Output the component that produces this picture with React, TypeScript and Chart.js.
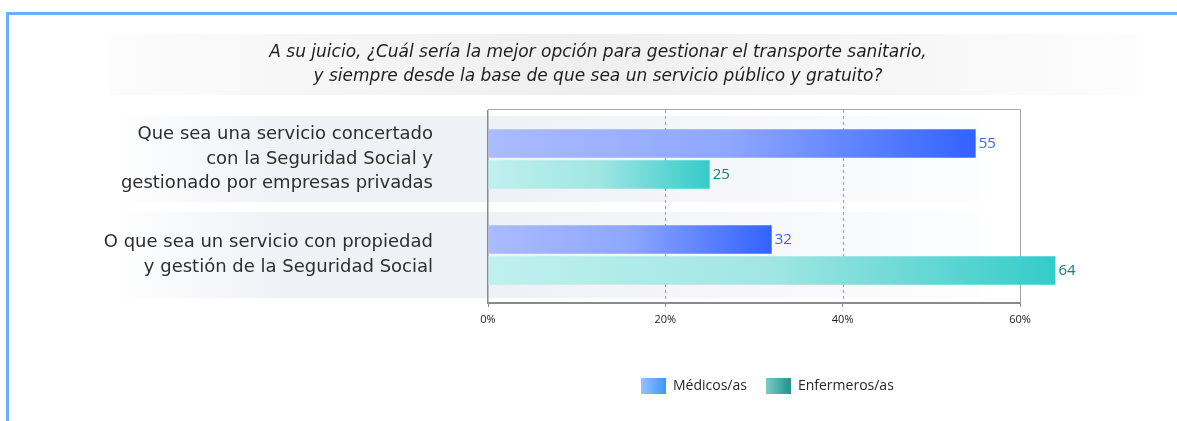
import React, { useEffect, useRef } from "react";
import { Chart, registerables } from "chart.js";

Chart.register(...registerables);

const titleLines = [
  "A su juicio, ¿Cuál sería la mejor opción para gestionar el transporte sanitario,",
  "y siempre desde la base de que sea un servicio público y gratuito?",
];

const categories: string[][] = [
  ["Que sea una servicio concertado", "con la Seguridad Social y", "gestionado por empresas privadas"],
  ["O que sea un servicio con propiedad", "y gestión de la Seguridad Social"],
];

const seriesNames = ["Médicos/as", "Enfermeros/as"];
const medicosValues = [55, 32];
const enfermerosValues = [25, 64];
const xTicks = [0, 20, 40, 60];

const FONT = "'Open Sans', 'Noto Sans', sans-serif";
const WIDE_FONT = "'DejaVu Sans', 'Open Sans', sans-serif";

const barStops = [
  ["#aabcff", "#8ea6ff", "#3262ff"],
  ["#bff0ee", "#a0e6e3", "#34cbc9"],
];
const labelColors = ["#3a64ff", "#15807a"];
const legendStops = [
  ["#92c4ff", "#3a96ff"],
  ["#7fcac5", "#1a948e"],
];

function makeBarGradient(idx: number) {
  return (ctx: any) => {
    const chart = ctx.chart;
    const stops = barStops[idx];
    if (!chart.chartArea || ctx.type !== "data") return stops[2];
    const xs = chart.scales.x;
    const x0 = xs.getPixelForValue(0);
    const x1 = xs.getPixelForValue(ctx.raw as number);
    const g = chart.ctx.createLinearGradient(x0, 0, x1, 0);
    g.addColorStop(0, stops[0]);
    g.addColorStop(0.5, stops[1]);
    g.addColorStop(1, stops[2]);
    return g;
  };
}

const backgroundPlugin = {
  id: "bgDecor",
  beforeDraw(chart: any) {
    const ctx = chart.ctx as CanvasRenderingContext2D;
    const W = chart.width;
    const H = chart.height;
    ctx.save();
    ctx.fillStyle = "#ffffff";
    ctx.fillRect(0, 0, W, H);

    // outer blue frame (top and left)
    ctx.fillStyle = "#6aaeff";
    ctx.fillRect(6, 12, W - 6, 3);
    ctx.fillRect(6, 12, 3, H - 12);

    // title band
    const tg = ctx.createLinearGradient(110, 0, 1137, 0);
    tg.addColorStop(0, "#fcfcfc");
    tg.addColorStop(0.45, "#efefef");
    tg.addColorStop(0.75, "#f6f6f6");
    tg.addColorStop(1, "#fdfdfd");
    ctx.fillStyle = tg;
    ctx.fillRect(110, 34, 1027, 61);

    // title text
    ctx.fillStyle = "#1e1e1e";
    ctx.font = `oblique 17px ${WIDE_FONT}`;
    ctx.textAlign = "center";
    ctx.textBaseline = "middle";
    ctx.fillText(titleLines[0], 598, 53);
    ctx.fillText(titleLines[1], 598, 77);

    // category bands
    const ys = chart.scales.y;
    const bg = ctx.createLinearGradient(110, 0, 981, 0);
    bg.addColorStop(0, "rgba(238,241,246,0)");
    bg.addColorStop(0.2, "#eef1f6");
    bg.addColorStop(0.45, "#eef1f6");
    bg.addColorStop(1, "#fcfdfe");
    ctx.fillStyle = bg;
    categories.forEach((_, i) => {
      const cy = ys.getPixelForValue(i);
      ctx.fillRect(110, cy - 43, 871, 86);
    });
    ctx.restore();
  },
  beforeDatasetsDraw(chart: any) {
    const ctx = chart.ctx as CanvasRenderingContext2D;
    const { top, bottom, left, right } = chart.chartArea;
    const xs = chart.scales.x;
    ctx.save();
    // frame top and right
    ctx.strokeStyle = "#a8a8a8";
    ctx.lineWidth = 1;
    ctx.beginPath();
    ctx.moveTo(left, top - 1.5);
    ctx.lineTo(right + 0.5, top - 1.5);
    ctx.lineTo(right + 0.5, bottom);
    ctx.stroke();
    // dashed grid lines
    ctx.strokeStyle = "#a0a0a0";
    ctx.setLineDash([3, 3]);
    xTicks.slice(1).forEach((v) => {
      const x = Math.round(xs.getPixelForValue(v)) + 0.5;
      ctx.beginPath();
      ctx.moveTo(x, top - 1);
      ctx.lineTo(x, bottom);
      ctx.stroke();
    });
    ctx.restore();
  },
  afterDraw(chart: any) {
    const ctx = chart.ctx as CanvasRenderingContext2D;
    ctx.save();
    // value labels
    ctx.font = `15px ${FONT}`;
    ctx.textAlign = "left";
    ctx.textBaseline = "middle";
    chart.data.datasets.forEach((ds: any, di: number) => {
      const meta = chart.getDatasetMeta(di);
      ctx.fillStyle = labelColors[di];
      meta.data.forEach((el: any, i: number) => {
        ctx.fillText(String(ds.data[i]), el.x + 3, el.y);
      });
    });

    // legend
    ctx.font = `14px ${FONT}`;
    ctx.textBaseline = "middle";
    let x = 641;
    const y = 378;
    seriesNames.forEach((name, i) => {
      const g = ctx.createLinearGradient(x, 0, x + 25, 0);
      g.addColorStop(0, legendStops[i][0]);
      g.addColorStop(1, legendStops[i][1]);
      ctx.fillStyle = g;
      ctx.fillRect(x, y, 25, 16);
      ctx.fillStyle = "#262626";
      ctx.fillText(name, x + 32, y + 8.5);
      x += 32 + ctx.measureText(name).width + 19;
    });
    ctx.restore();
  },
};

export default function App() {
  const canvasRef = useRef<HTMLCanvasElement | null>(null);

  useEffect(() => {
    const canvas = canvasRef.current;
    if (!canvas) return;
    const chart = new Chart(canvas, {
      type: "bar",
      data: {
        labels: categories as any,
        datasets: [
          {
            label: seriesNames[0],
            data: medicosValues,
            backgroundColor: makeBarGradient(0) as any,
            borderWidth: 0,
            categoryPercentage: 0.646,
            barPercentage: 0.92,
            clip: false as any,
          },
          {
            label: seriesNames[1],
            data: enfermerosValues,
            backgroundColor: makeBarGradient(1) as any,
            borderWidth: 0,
            categoryPercentage: 0.646,
            barPercentage: 0.92,
            clip: false as any,
          },
        ],
      },
      options: {
        indexAxis: "y",
        responsive: false,
        animation: false,
        devicePixelRatio: 1,
        layout: { padding: { top: 111, right: 157, bottom: 0, left: 0 } },
        plugins: {
          legend: { display: false },
          title: { display: false },
          tooltip: { enabled: false },
        },
        scales: {
          x: {
            type: "linear",
            min: 0,
            max: 60,
            afterBuildTicks: (scale: any) => {
              scale.ticks = xTicks.map((v) => ({ value: v }));
            },
            afterFit: (scale: any) => {
              scale.height = 118;
            },
            ticks: {
              callback: (v: any) => `${v}%`,
              font: { family: FONT, size: 11 },
              color: "#222",
              padding: 6,
              maxRotation: 0,
            },
            grid: {
              drawOnChartArea: false,
              drawTicks: true,
              tickLength: 4,
              color: "#8a8a8a",
              lineWidth: 1,
            },
            border: { display: true, color: "#8a8a8a", width: 2 },
          },
          y: {
            type: "category",
            afterFit: (scale: any) => {
              scale.width = 488;
            },
            ticks: {
              font: { family: WIDE_FONT, size: 18, lineHeight: 1.36 },
              color: "#2e2e2e",
              padding: 55,
            },
            grid: { display: false, drawTicks: false },
            border: { display: true, color: "#8a8a8a", width: 1.5 },
          },
        },
      },
      plugins: [backgroundPlugin],
    });
    return () => chart.destroy();
  }, []);

  return (
    <canvas
      ref={canvasRef}
      width={1177}
      height={421}
      style={{ position: "fixed", left: 0, top: 0, width: 1177, height: 421 }}
    />
  );
}
